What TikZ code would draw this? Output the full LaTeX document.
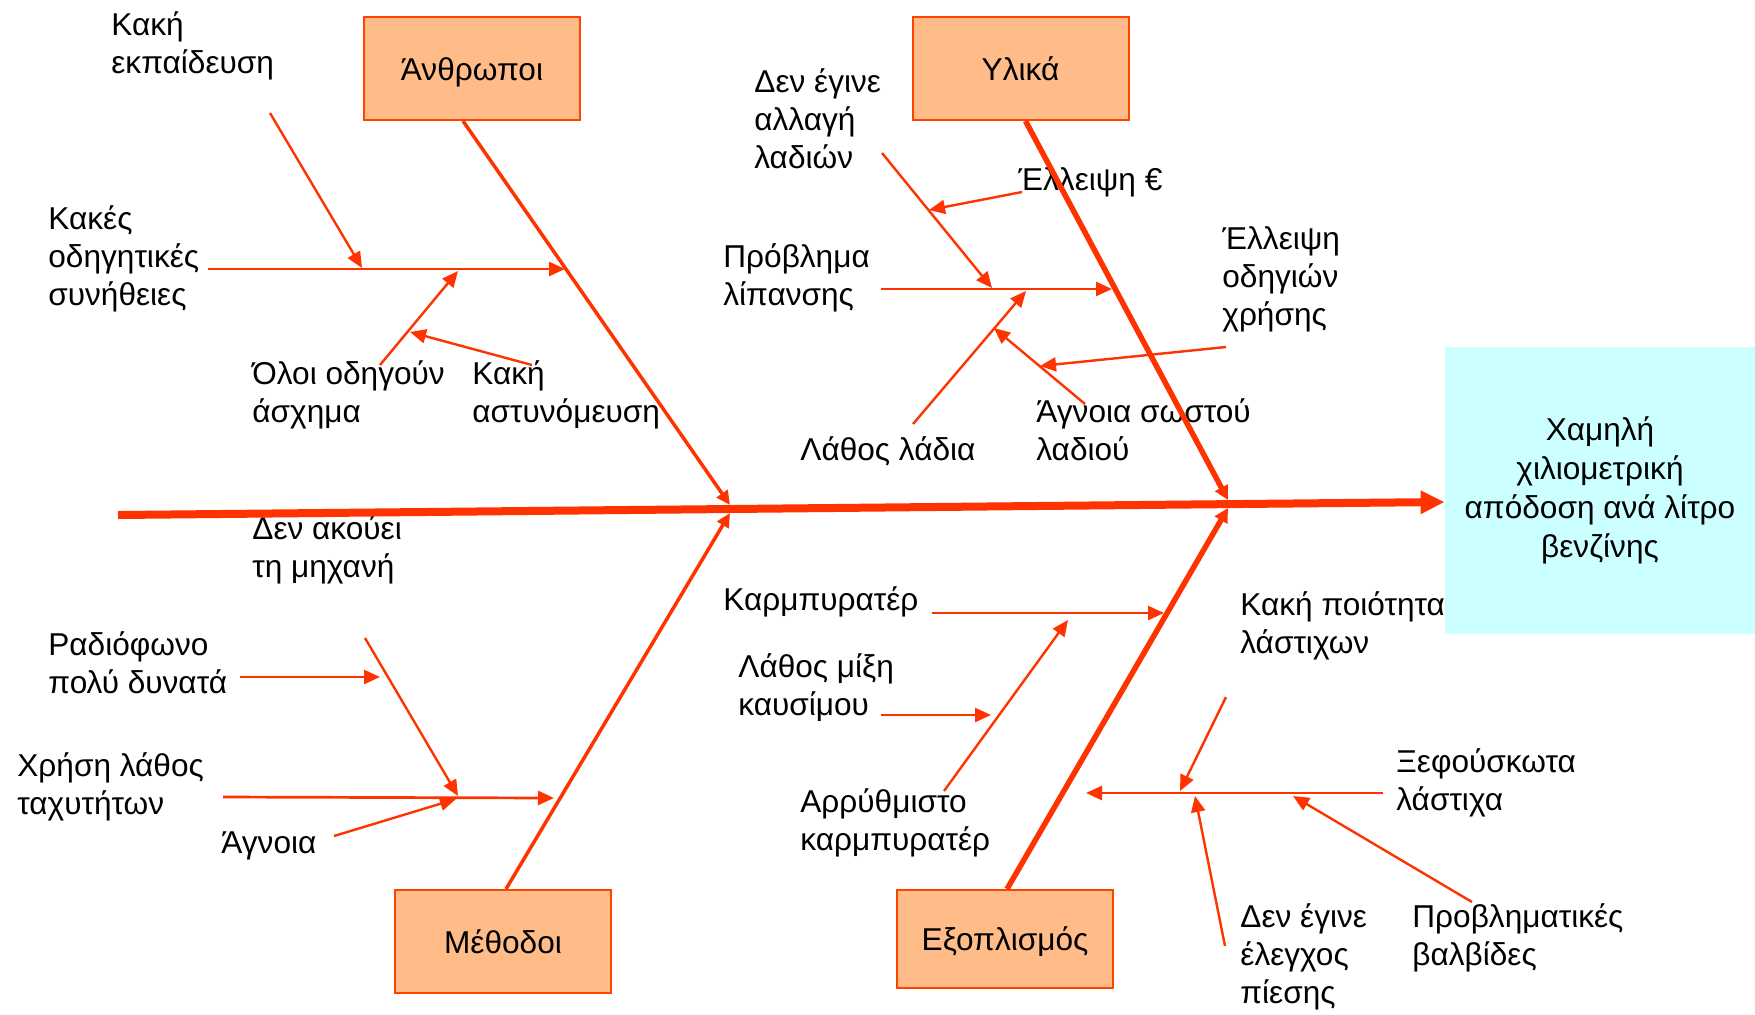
\documentclass[tikz,border=0pt]{standalone}
\usepackage{fontspec}
\setmainfont{Liberation Sans}
\usetikzlibrary{arrows.meta,calc}

\definecolor{bone}{RGB}{255,51,0}
\definecolor{boxfill}{RGB}{255,187,136}
\definecolor{boxline}{RGB}{255,68,0}
\definecolor{effectfill}{RGB}{204,255,255}

\begin{document}
% Labels are placed by the baseline of their last line (base west).
\begin{tikzpicture}[x=0.5pt,y=-0.5pt,
  lbl/.style={anchor=base west, inner sep=0pt, align=left,
    font=\fontsize{15.8}{19}\selectfont},
  cat/.style={draw=boxline, fill=boxfill, line width=1pt, minimum width=108pt,
    minimum height=51.5pt, inner sep=0pt, text height=15pt, text depth=3.5pt,
    font=\fontsize{15.8}{19}\selectfont},
  spine/.style={draw=bone, line width=4pt, -{Triangle[length=12pt,width=11pt]}},
  bigbone/.style={draw=bone, line width=2.75pt, -{Triangle[length=7pt,width=7pt]}},
  midbone/.style={draw=bone, line width=1.75pt, -{Triangle[length=7pt,width=6.5pt]}},
  twig/.style={draw=bone, line width=1.2pt, -{Triangle[length=8pt,width=7pt]}},
  flat/.style={twig, line width=1.35pt},
]
\useasboundingbox (0,0) rectangle (1755,1014);

% category boxes
\node[cat] (ppl) at (472,68.5) {Άνθρωποι};
\node[cat] (mat) at (1020.5,68.5) {Υλικά};
\node[cat] (mth) at (503,941.5) {Μέθοδοι};
\node[cat, minimum height=49pt] (eqp) at (1005,939) {Εξοπλισμός};

% cause labels
\node[lbl] (t1) at (111,73) {Κακή\\εκπαίδευση};
\node[lbl] (t2) at (48,305) {Κακές\\οδηγητικές\\συνήθειες};
\node[lbl] (t3) at (252,422) {Όλοι οδηγούν\\άσχημα};
\node[lbl] (t4) at (472,422) {Κακή\\αστυνόμευση};
\node[lbl] (t5) at (754,168) {Δεν έγινε\\αλλαγή\\λαδιών};
\node[lbl] (t6) at (1018,190) {Έλλειψη €};
\node[lbl] (t7) at (723,305) {Πρόβλημα\\λίπανσης};
\node[lbl] (t8) at (1222,325) {Έλλειψη\\οδηγιών\\χρήσης};
\node[lbl] (t9) at (1036,460) {Άγνοια σωστού\\λαδιού};
\node[lbl] (t10) at (800,460) {Λάθος λάδια};
\node[lbl] (t11) at (252,577) {Δεν ακούει\\τη μηχανή};
\node[lbl] (t12) at (48,693) {Ραδιόφωνο\\πολύ δυνατά};
\node[lbl] (t13) at (17,814) {Χρήση λάθος\\ταχυτήτων};
\node[lbl] (t14) at (221,853) {Άγνοια};
\node[lbl] (t15) at (723,610) {Καρμπυρατέρ};
\node[lbl] (t16) at (738,715) {Λάθος μίξη\\καυσίμου};
\node[lbl] (t17) at (800,850) {Αρρύθμιστο\\καρμπυρατέρ};
\node[lbl] (t18) at (1240,653) {Κακή ποιότητα\\λάστιχων};
\node[lbl] (t19) at (1396,810) {Ξεφούσκωτα\\λάστιχα};
\node[lbl] (t20) at (1240,1003) {Δεν έγινε\\έλεγχος\\πίεσης};
\node[lbl] (t21) at (1412,965) {Προβληματικές\\βαλβίδες};

% effect box (drawn over the neighbouring label)
\node[fill=effectfill, minimum width=155pt, minimum height=143.5pt, inner sep=0pt,
  align=center, font=\fontsize{15.8}{19.5}\selectfont] (effect) at (1600,490.5)
  {Χαμηλή\\χιλιομετρική\\απόδοση ανά λίτρο\\βενζίνης};

% spine
\coordinate (tail) at (118,515);
\draw[spine] (tail) -- ($(effect.west)+(0,11.5)$);

% bone ends on the spine
\coordinate (jAu) at (730,505);
\coordinate (jAd) at (730,513);
\coordinate (jBu) at (1228,500);
\coordinate (jBd) at (1228,508);

\draw[midbone] ($(ppl.south)+(-9,0)$) -- (jAu);
\draw[midbone] ($(mth.north)+(3,0)$) -- (jAd);
\draw[bigbone] ($(mat.south)+(5,0)$) -- (jBu);
\draw[bigbone] ($(eqp.north)+(2,0)$) -- (jBd);

% people
\coordinate (a1s) at (208,269);  \coordinate (a1e) at (565,269);
\coordinate (a2s) at (270,113);  \coordinate (a2e) at (362,268);
\coordinate (a3s) at (380,365);  \coordinate (a3e) at (458,271);
\coordinate (a4s) at (532,365);  \coordinate (a4e) at (410,332);
\draw[flat] (a1s) -- (a1e);
\draw[twig] (a2s) -- (a2e);
\draw[twig] (a3s) -- (a3e);
\draw[twig] (a4s) -- (a4e);

% materials
\coordinate (b1s) at (881,289);  \coordinate (b1e) at (1112,289);
\coordinate (b2s) at (882,153);  \coordinate (b2e) at (992,288);
\coordinate (b3s) at (1022,192); \coordinate (b3e) at (929,210);
\coordinate (b4s) at (913,424);  \coordinate (b4e) at (1026,291);
\coordinate (b5s) at (1085,404); \coordinate (b5e) at (994,328);
\coordinate (b6s) at (1226,347); \coordinate (b6e) at (1040,366);
\draw[flat] (b1s) -- (b1e);
\draw[twig] (b2s) -- (b2e);
\draw[twig] (b3s) -- (b3e);
\draw[twig] (b4s) -- (b4e);
\draw[twig] (b5s) -- (b5e);
\draw[twig] (b6s) -- (b6e);

% methods
\coordinate (c1s) at (240,677);  \coordinate (c1e) at (380,677);
\coordinate (c2s) at (365,638);  \coordinate (c2e) at (458,796);
\coordinate (c3s) at (223,797);  \coordinate (c3e) at (554,798);
\coordinate (c4s) at (334,836);  \coordinate (c4e) at (456,799);
\draw[flat] (c1s) -- (c1e);
\draw[twig] (c2s) -- (c2e);
\draw[flat] (c3s) -- (c3e);
\draw[twig] (c4s) -- (c4e);

% equipment
\coordinate (d1s) at (932,613);  \coordinate (d1e) at (1164,613);
\coordinate (d2s) at (881,715);  \coordinate (d2e) at (991,715);
\coordinate (d3s) at (944,791);  \coordinate (d3e) at (1068,620);
\coordinate (d4s) at (1383,793); \coordinate (d4e) at (1086,793);
\coordinate (d5s) at (1226,697); \coordinate (d5e) at (1180,791);
\coordinate (d6s) at (1225,946); \coordinate (d6e) at (1195,796);
\coordinate (d7s) at (1472,902); \coordinate (d7e) at (1293,796);
\draw[flat] (d1s) -- (d1e);
\draw[flat] (d2s) -- (d2e);
\draw[twig] (d3s) -- (d3e);
\draw[flat] (d4s) -- (d4e);
\draw[twig] (d5s) -- (d5e);
\draw[twig] (d6s) -- (d6e);
\draw[twig] (d7s) -- (d7e);
\end{tikzpicture}
\end{document}
